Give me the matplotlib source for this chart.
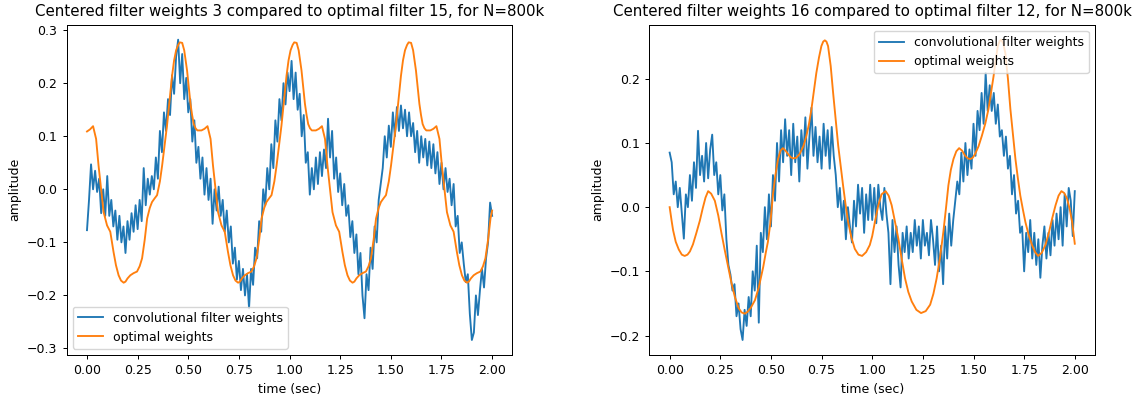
import numpy as np
import matplotlib
matplotlib.use("Agg")
import matplotlib.pyplot as plt

# sample times for the learned (convolutional) filter weights
time_conv = np.linspace(0.0, 2.0, 201)

conv_weights_3 = [
    -0.077, -0.02, 0.047, 0.0, 0.035, -0.005, 0.02, -0.045, 0.0, -0.05,
    0.025, -0.05, -0.02, -0.07, -0.04, -0.095, -0.05, -0.1, -0.07, -0.12,
    -0.06, -0.095, -0.045, -0.08, -0.03, -0.075, -0.02, -0.06, 0.04, -0.03,
    0.02, -0.01, 0.025, 0.0, 0.06, 0.02, 0.11, 0.07, 0.145, 0.11,
    0.17, 0.14, 0.215, 0.18, 0.25, 0.282, 0.2, 0.255, 0.17, 0.21,
    0.145, 0.17, 0.09, 0.13, 0.05, 0.08, 0.02, 0.06, -0.01, 0.04,
    -0.02, 0.02, -0.065, 0.0, -0.04, 0.005, -0.05, -0.02, -0.08, -0.04,
    -0.1, -0.07, -0.14, -0.11, -0.17, -0.135, -0.19, -0.15, -0.2, -0.16,
    -0.224, -0.15, -0.18, -0.11, -0.13, -0.06, -0.08, 0.0, -0.03, 0.04,
    0.0, 0.085, 0.04, 0.13, 0.09, 0.17, 0.13, 0.2, 0.16, 0.22,
    0.185, 0.242, 0.17, 0.22, 0.15, 0.18, 0.1, 0.14, 0.05, 0.07,
    -0.01, 0.04, 0.0, 0.06, 0.01, 0.07, 0.025, 0.075, 0.04, 0.133,
    0.06, 0.11, 0.02, 0.06, -0.005, 0.03, -0.03, 0.01, -0.05, -0.03,
    -0.09, -0.06, -0.12, -0.085, -0.16, -0.12, -0.2, -0.243, -0.16, -0.19,
    -0.11, -0.15, -0.07, -0.1, -0.02, 0.01, 0.04, 0.1, 0.06, 0.12,
    0.08, 0.145, 0.1, 0.155, 0.11, 0.158, 0.115, 0.15, 0.1, 0.145,
    0.1, 0.125, 0.07, 0.11, 0.05, 0.1, 0.06, 0.095, 0.045, 0.09,
    0.04, 0.085, 0.03, 0.07, 0.01, 0.05, 0.0, 0.04, -0.005, 0.02,
    -0.03, 0.01, -0.07, -0.05, -0.12, -0.1, -0.14, -0.175, -0.16, -0.235,
    -0.284, -0.27, -0.2, -0.237, -0.19, -0.15, -0.185, -0.13, -0.1, -0.025,
    -0.05,
]

conv_weights_16 = [
    0.085, 0.07, 0.02, 0.04, 0.0, 0.03, -0.01, -0.049, 0.02, 0.0,
    0.05, 0.01, 0.07, 0.03, 0.119, 0.05, 0.08, 0.04, 0.1, 0.045,
    0.09, 0.113, 0.05, 0.07, 0.02, 0.05, -0.005, 0.02, -0.05, -0.09,
    -0.105, -0.13, -0.12, -0.17, -0.15, -0.19, -0.207, -0.16, -0.185, -0.14,
    -0.17, -0.1, -0.13, -0.06, -0.18, -0.04, -0.07, 0.0, -0.05, 0.02,
    -0.03, 0.05, 0.01, 0.1, 0.04, 0.12, 0.07, 0.137, 0.08, 0.12,
    0.05, 0.13, 0.07, 0.11, 0.04, 0.12, 0.08, 0.14, 0.06, 0.11,
    0.155, 0.08, 0.125, 0.07, 0.11, 0.06, 0.13, 0.08, 0.12, 0.06,
    0.125, 0.08, 0.05, 0.0, 0.03, -0.02, 0.01, -0.05, 0.0, -0.03,
    -0.055, 0.01, -0.03, 0.035, -0.01, 0.03, -0.04, 0.02, -0.02, 0.035,
    -0.02, 0.03, -0.025, 0.035, 0.0, -0.02, 0.03, -0.01, -0.04, -0.12,
    -0.02, -0.07, -0.03, -0.09, -0.125, -0.04, -0.07, -0.03, -0.08, -0.04,
    -0.07, -0.02, -0.06, -0.03, -0.08, -0.02, -0.06, -0.04, -0.075, -0.02,
    -0.05, -0.09, -0.03, -0.1, -0.06, -0.12, -0.03, -0.08, -0.01, -0.06,
    -0.02, 0.01, 0.04, 0.02, 0.085, 0.04, 0.1, 0.05, 0.09, 0.06,
    0.13, 0.08, 0.15, 0.12, 0.178, 0.13, 0.209, 0.15, 0.19, 0.15,
    0.178, 0.13, 0.16, 0.11, 0.12, 0.08, 0.11, 0.06, 0.08, 0.02,
    0.05, -0.01, 0.01, -0.04, -0.03, -0.1, -0.04, -0.07, -0.02, -0.08,
    -0.04, -0.09, -0.05, -0.11, -0.06, -0.03, -0.08, -0.04, -0.075, -0.02,
    -0.06, -0.01, -0.05, 0.0, -0.06, 0.02, -0.03, 0.03, 0.01, -0.045,
    0.025,
]

# optimal filter 15
time_opt_15 = [
    0.000, 0.015, 0.030, 0.045, 0.057, 0.070, 0.082, 0.099, 0.115, 0.131,
    0.143, 0.156, 0.168, 0.181, 0.190, 0.200, 0.214, 0.230, 0.247, 0.260,
    0.272, 0.285, 0.297, 0.310, 0.321, 0.334, 0.346, 0.360, 0.371, 0.383,
    0.395, 0.408, 0.420, 0.430, 0.440, 0.450, 0.458, 0.470, 0.480, 0.494,
    0.502, 0.511, 0.519, 0.527, 0.536, 0.545,
    0.565, 0.580, 0.595, 0.610, 0.622, 0.635, 0.647, 0.664, 0.680, 0.696,
    0.708, 0.721, 0.733, 0.746, 0.755, 0.765, 0.779, 0.795, 0.812, 0.825,
    0.837, 0.850, 0.862, 0.875, 0.886, 0.899, 0.911, 0.925, 0.936, 0.948,
    0.960, 0.973, 0.985, 0.995, 1.005, 1.015, 1.023, 1.035, 1.045, 1.059,
    1.067, 1.076, 1.084, 1.092, 1.101, 1.110,
    1.130, 1.145, 1.160, 1.175, 1.187, 1.200, 1.212, 1.229, 1.245, 1.261,
    1.273, 1.286, 1.298, 1.311, 1.320, 1.330, 1.344, 1.360, 1.377, 1.390,
    1.402, 1.415, 1.427, 1.440, 1.451, 1.464, 1.476, 1.490, 1.501, 1.513,
    1.525, 1.538, 1.550, 1.560, 1.570, 1.580, 1.588, 1.600, 1.610, 1.624,
    1.632, 1.641, 1.649, 1.657, 1.666, 1.675,
    1.695, 1.710, 1.725, 1.740, 1.752, 1.765, 1.777, 1.794, 1.810, 1.826,
    1.838, 1.851, 1.863, 1.876, 1.885, 1.895, 1.909, 1.925, 1.942, 1.955,
    1.967, 1.980, 1.992, 2.000,
]
opt_weights_15 = [
    0.109, 0.113, 0.119, 0.095, 0.045, 0.000, -0.043, -0.068, -0.080, -0.118,
    -0.143, -0.162, -0.172, -0.176, -0.174, -0.168, -0.162, -0.158, -0.155, -0.145,
    -0.130, -0.095, -0.055, -0.035, -0.024, -0.017, -0.011, 0.015, 0.045, 0.082,
    0.120, 0.168, 0.214, 0.243, 0.262, 0.272, 0.277, 0.276, 0.262, 0.224,
    0.195, 0.161, 0.140, 0.123, 0.115, 0.111,
    0.111, 0.114, 0.119, 0.095, 0.045, 0.000, -0.043, -0.068, -0.080, -0.118,
    -0.143, -0.162, -0.172, -0.176, -0.174, -0.168, -0.162, -0.158, -0.155, -0.145,
    -0.130, -0.095, -0.055, -0.035, -0.024, -0.017, -0.011, 0.015, 0.045, 0.082,
    0.120, 0.168, 0.214, 0.243, 0.262, 0.272, 0.277, 0.276, 0.262, 0.224,
    0.195, 0.161, 0.140, 0.123, 0.115, 0.111,
    0.111, 0.114, 0.119, 0.095, 0.045, 0.000, -0.043, -0.068, -0.080, -0.118,
    -0.143, -0.162, -0.172, -0.176, -0.174, -0.168, -0.162, -0.158, -0.155, -0.145,
    -0.130, -0.095, -0.055, -0.035, -0.024, -0.017, -0.011, 0.015, 0.045, 0.082,
    0.120, 0.168, 0.214, 0.243, 0.262, 0.272, 0.277, 0.276, 0.262, 0.224,
    0.195, 0.161, 0.140, 0.123, 0.115, 0.111,
    0.111, 0.114, 0.119, 0.095, 0.045, 0.000, -0.043, -0.068, -0.080, -0.118,
    -0.143, -0.162, -0.172, -0.176, -0.174, -0.168, -0.162, -0.158, -0.155, -0.145,
    -0.130, -0.095, -0.055, -0.040,
]

# optimal filter 12
time_opt_12 = [
    0.000, 0.010, 0.017, 0.030, 0.045, 0.060, 0.074, 0.088, 0.100, 0.115,
    0.132, 0.149, 0.163, 0.177, 0.190, 0.205, 0.223, 0.240, 0.256, 0.272,
    0.289, 0.305, 0.322, 0.340, 0.355, 0.371, 0.385, 0.400, 0.421, 0.440,
    0.462, 0.475, 0.485, 0.497, 0.510, 0.522, 0.535, 0.547, 0.559, 0.572,
    0.584, 0.597, 0.609, 0.625, 0.642, 0.660, 0.675, 0.688, 0.700, 0.712,
    0.724, 0.737, 0.749, 0.758, 0.766, 0.774, 0.782, 0.795, 0.807, 0.820,
    0.832, 0.845, 0.856, 0.868, 0.881, 0.897, 0.914, 0.932, 0.950, 0.970,
    0.988, 1.000, 1.015, 1.030, 1.046, 1.066, 1.081, 1.096, 1.112, 1.129,
    1.145, 1.162, 1.178, 1.195, 1.218, 1.241, 1.264, 1.286, 1.302, 1.318,
    1.335, 1.351, 1.364, 1.376, 1.388, 1.401, 1.415, 1.429, 1.444, 1.459,
    1.472, 1.484, 1.496, 1.508, 1.525, 1.541, 1.558, 1.574, 1.587, 1.599,
    1.610, 1.620, 1.629, 1.637, 1.647, 1.657, 1.670, 1.682, 1.695, 1.707,
    1.719, 1.731, 1.744, 1.756, 1.772, 1.789, 1.804, 1.819, 1.837, 1.855,
    1.872, 1.888, 1.905, 1.920, 1.934, 1.948, 1.962, 1.975, 1.987, 2.000,
]
opt_weights_12 = [
    0.000, -0.022, -0.036, -0.054, -0.066, -0.074, -0.076, -0.074, -0.069, -0.058,
    -0.040, -0.021, -0.002, 0.015, 0.025, 0.021, 0.010, -0.013, -0.041, -0.067,
    -0.093, -0.118, -0.140, -0.157, -0.164, -0.166, -0.163, -0.157, -0.145, -0.125,
    -0.093, -0.070, -0.054, -0.025, 0.020, 0.050, 0.075, 0.088, 0.092, 0.088,
    0.083, 0.078, 0.076, 0.077, 0.083, 0.095, 0.111, 0.130, 0.153, 0.181,
    0.209, 0.233, 0.251, 0.258, 0.260, 0.258, 0.251, 0.220, 0.178, 0.135,
    0.096, 0.062, 0.034, 0.005, -0.023, -0.047, -0.065, -0.074, -0.076, -0.070,
    -0.059, -0.045, -0.020, 0.003, 0.020, 0.025, 0.018, 0.003, -0.022, -0.049,
    -0.080, -0.111, -0.132, -0.147, -0.160, -0.165, -0.162, -0.152, -0.135, -0.111,
    -0.078, -0.039, -0.002, 0.034, 0.058, 0.075, 0.087, 0.092, 0.088, 0.080,
    0.076, 0.075, 0.077, 0.083, 0.095, 0.111, 0.130, 0.153, 0.180, 0.204,
    0.230, 0.251, 0.259, 0.261, 0.255, 0.240, 0.200, 0.153, 0.112, 0.075,
    0.045, 0.018, -0.004, -0.023, -0.043, -0.059, -0.070, -0.076, -0.071, -0.059,
    -0.040, -0.018, 0.003, 0.018, 0.025, 0.022, 0.013, -0.003, -0.023, -0.057,
]

titles = [
    "Centered filter weights 3 compared to optimal filter 15, for N=800k",
    "Centered filter weights 16 compared to optimal filter 12, for N=800k",
]

plt.rcParams.update({
    "font.size": 9,
    "lines.linewidth": 1.35,
    "axes.linewidth": 0.72,
    "xtick.major.size": 3.15,
    "ytick.major.size": 3.15,
    "xtick.major.width": 0.72,
    "ytick.major.width": 0.72,
})

fig, axes = plt.subplots(1, 2, figsize=(11.33, 3.98), dpi=100)
fig.subplots_adjust(left=0.0589, right=0.9665, bottom=0.108, top=0.938, wspace=0.3075)

panels = [
    (conv_weights_3, time_opt_15, opt_weights_15, "lower left"),
    (conv_weights_16, time_opt_12, opt_weights_12, "upper right"),
]

for ax, title, (conv, t_opt, opt, loc) in zip(axes, titles, panels):
    ax.plot(time_conv, conv, color="tab:blue", label="convolutional filter weights")
    ax.plot(t_opt, opt, color="tab:orange", label="optimal weights")
    ax.set_title(title)
    ax.set_xlabel("time (sec)")
    ax.set_ylabel("amplitude")
    ax.legend(loc=loc)

fig.savefig("out.png", dpi=100)
